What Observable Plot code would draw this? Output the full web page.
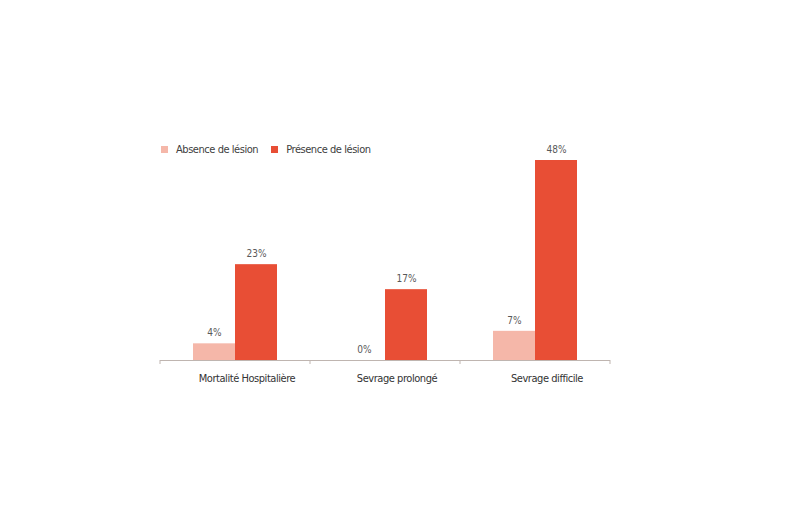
<!DOCTYPE html>
<html>
<head>
<meta charset="utf-8">
<script src="https://cdn.jsdelivr.net/npm/d3@7"></script>
<script src="https://cdn.jsdelivr.net/npm/@observablehq/plot@0.6"></script>
<style>
  body { margin: 0; background: #fff; }
  #wrap { position: relative; width: 799px; height: 532px; font-family: "DejaVu Sans Condensed", "Liberation Sans", sans-serif; }
  #legend { position: absolute; left: 161px; top: 143px; display: flex; gap: 13px; font-size: 11px; letter-spacing: -0.45px; color: #404040; }
  #legend span.item { display: flex; align-items: center; }
  #legend span.sw { display: inline-block; width: 7px; height: 7px; margin-right: 8px; }
  #chart { position: absolute; left: 0; top: 0; }
</style>
</head>
<body>
<div id="wrap">
  <div id="chart"></div>
  <div id="legend"></div>
</div>
<script>
const categories = ["Mortalité Hospitalière", "Sevrage prolongé", "Sevrage difficile"];
const series = ["Absence de lésion", "Présence de lésion"];
const absence = [4, 0, 7];
const presence = [23, 17, 48];
const colors = ["#F5B7A9", "#E84E35"];

const data = [];
categories.forEach((c, i) => {
  data.push({cat: c, s: series[0], v: absence[i]});
  data.push({cat: c, s: series[1], v: presence[i]});
});

const legend = document.getElementById("legend");
series.forEach((s, i) => {
  const it = document.createElement("span");
  it.className = "item";
  it.innerHTML = `<span class="sw" style="background:${colors[i]}"></span>${s}`;
  legend.appendChild(it);
});

const plot = Plot.plot({
  width: 799,
  height: 532,
  marginLeft: 160,
  marginRight: 189,
  marginTop: 160,
  marginBottom: 172,
  style: {fontFamily: '"DejaVu Sans Condensed", "Liberation Sans", sans-serif', background: "transparent"},
  fx: {domain: categories, padding: 0, label: null, axis: null},
  x: {domain: series, paddingInner: 0, paddingOuter: 0.75, axis: null},
  y: {domain: [0, 48], axis: null},
  color: {domain: series, range: colors},
  marks: [
    Plot.barY(data, {fx: "cat", x: "s", y: "v", fill: "s"}),
    Plot.text(data, {fx: "cat", x: "s", y: "v", text: d => d.v + "%", dy: -11, fontSize: 10, letterSpacing: "-0.4px", fill: "#595959"}),
    Plot.ruleY([0], {stroke: "#BFB5B0", strokeWidth: 1})
  ]
});
document.getElementById("chart").appendChild(plot);

// Category labels and boundary ticks, positioned with the plot's fx scale
const fx = plot.scale("fx");
const yS = plot.scale("y");
const svg = d3.select(plot);
const y0 = yS.apply(0);
const bw = fx.bandwidth;
const g = svg.append("g");
categories.forEach((c, i) => {
  const x0 = fx.apply(c);
  g.append("text").attr("x", x0 + bw / 2 + 12).attr("y", y0 + 22)
    .attr("text-anchor", "middle").attr("font-size", 11).attr("letter-spacing", "-0.45px")
    .attr("fill", "#333")
    .text(c);
  g.append("line").attr("x1", x0).attr("x2", x0).attr("y1", y0).attr("y2", y0 + 4)
    .attr("stroke", "#BFB5B0");
  if (i === categories.length - 1) {
    g.append("line").attr("x1", x0 + bw).attr("x2", x0 + bw).attr("y1", y0).attr("y2", y0 + 4)
      .attr("stroke", "#BFB5B0");
  }
});
</script>
</body>
</html>
